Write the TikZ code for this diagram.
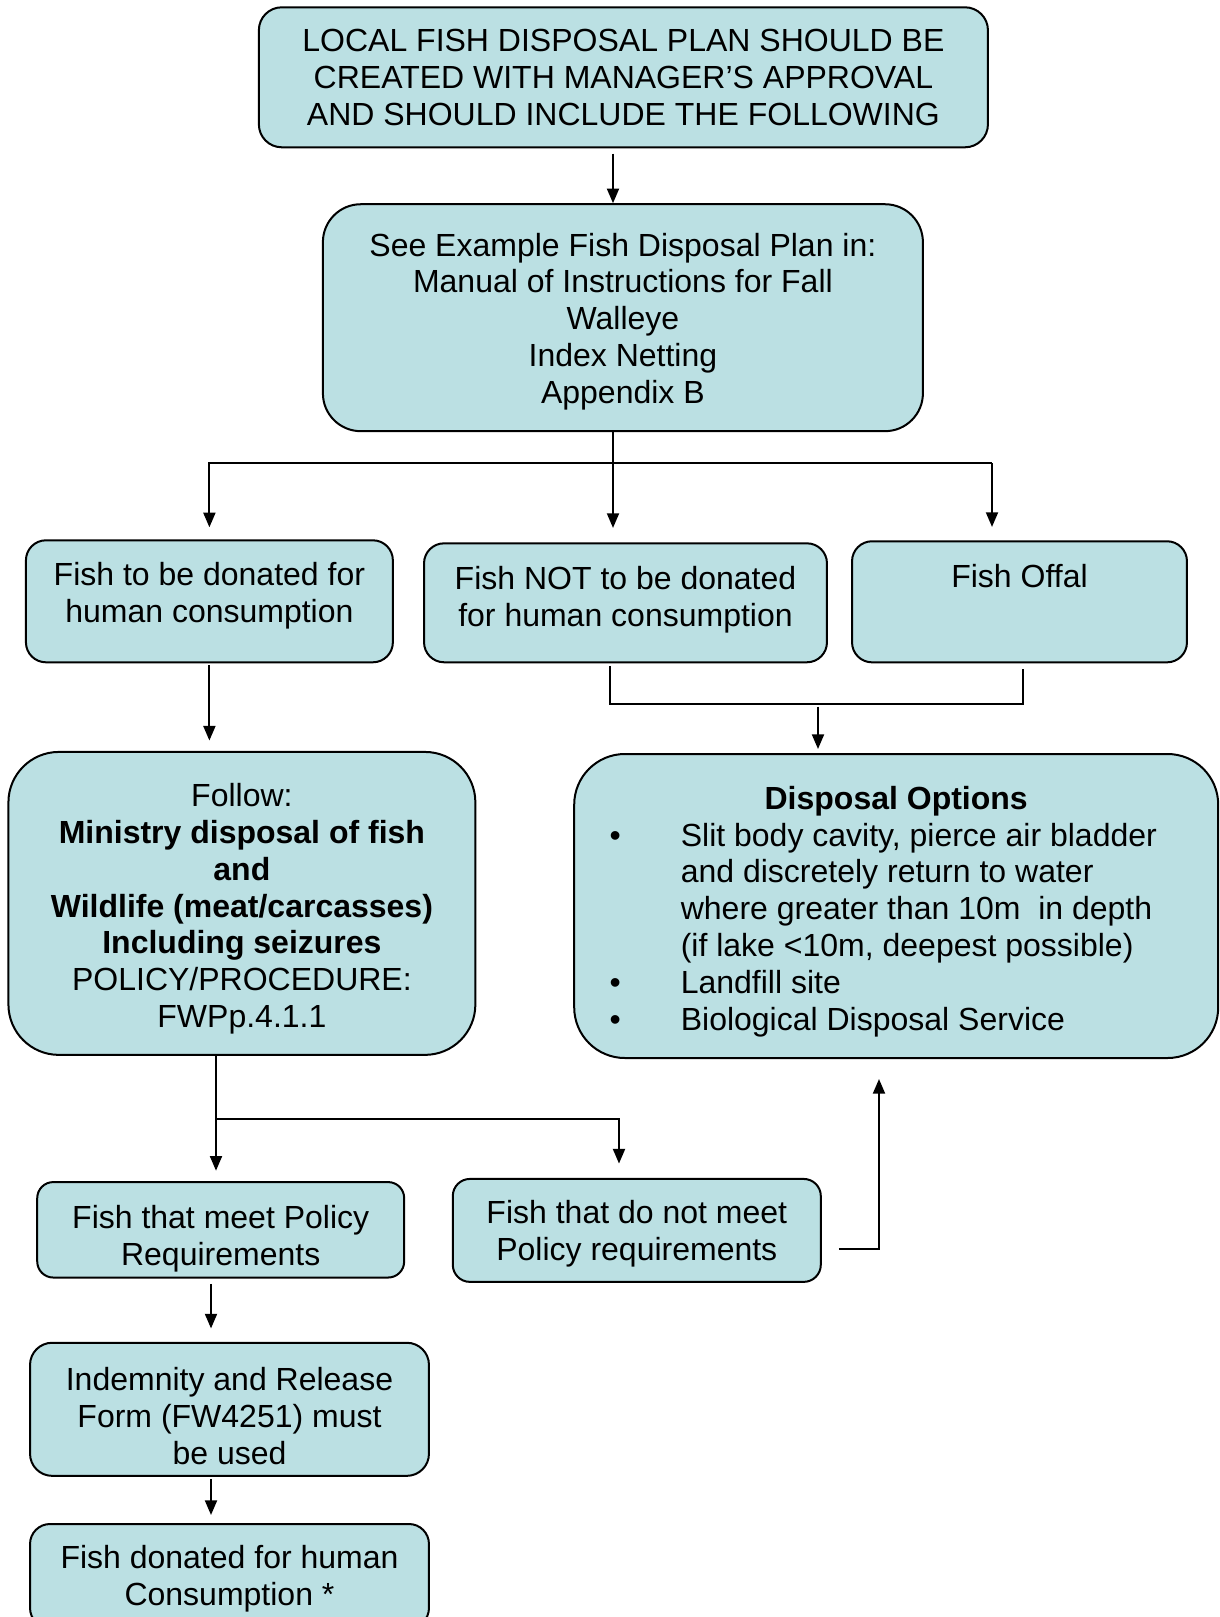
\documentclass[tikz,border=0pt]{standalone}
\usepackage{fontspec}
\setmainfont{Liberation Sans}
\usetikzlibrary{arrows.meta}
\definecolor{boxfill}{RGB}{187,224,227}

\begin{document}
\begin{tikzpicture}[x=0.375pt,y=-0.375pt,line width=0.75pt,
    >={Triangle[length=5.5pt,width=4.5pt]},
    box/.style={draw,fill=boxfill,align=center,inner sep=2pt,
      font=\fontsize{12}{13.8}\selectfont}]

    \path[use as bounding box] (0,0) rectangle (1219,1617);
    \clip (0,0) rectangle (1219,1617);

    % Boxes
    \node[box,minimum width=273.4pt,minimum height=52.5pt,rounded corners=8.6pt] (plan) at (623.4,77.3)
        {LOCAL FISH DISPOSAL PLAN SHOULD BE\\CREATED WITH MANAGER’S APPROVAL\\AND SHOULD INCLUDE THE FOLLOWING};
    \node[box,minimum width=225pt,minimum height=85.1pt,rounded corners=14.2pt] (see) at (622.9,317.7)
        {\rule{0pt}{11.5pt}See Example Fish Disposal Plan in:\\Manual of Instructions for Fall\\Walleye\\Index Netting\\Appendix B};
    \node[box,minimum width=137.6pt,minimum height=45.75pt,rounded corners=7.5pt] (donate) at (209.4,601.3)
        {Fish to be donated for\\human consumption\rule[-6.4pt]{0pt}{0pt}};
    \node[box,minimum width=151.1pt,minimum height=44.6pt,rounded corners=7.5pt] (notdonate) at (625.5,602.8)
        {Fish NOT to be donated\\for human consumption\rule[-4.8pt]{0pt}{0pt}};
    \node[box,minimum width=125.6pt,minimum height=45.4pt,rounded corners=7.5pt] (offal) at (1019.5,601.8)
        {Fish Offal\\\rule[-5.4pt]{0pt}{0pt}};
    \node[box,minimum width=175.1pt,minimum height=113.6pt,rounded corners=18.9pt] (follow) at (241.9,903.4)
        {\rule{0pt}{12.8pt}Follow:\\\textbf{Ministry disposal of fish}\\\textbf{and}\\\textbf{Wildlife (meat/carcasses)}\\\textbf{Including seizures}\\POLICY/PROCEDURE:\\FWPp.4.1.1};
    \node[box,minimum width=241.5pt,minimum height=114pt,rounded corners=19pt] (options) at (896.2,906)
        {\rule{0pt}{14.4pt}\textbf{Disposal Options}\\
         \begin{tabular}[t]{@{}p{26.7pt}@{}l@{}}
            \textbullet & Slit body cavity, pierce air bladder\\
                        & and discretely return to water\\
                        & where greater than 10m\ \ in depth\\
                        & (if lake <10m, deepest possible)\\
            \textbullet & Landfill site\\
            \textbullet & Biological Disposal Service
         \end{tabular}\hspace*{9.7pt}};
    \node[box,minimum width=137.6pt,minimum height=35.25pt,rounded corners=6pt] (meet) at (220.7,1229.8)
        {\rule{0pt}{15.5pt}Fish that meet Policy\\Requirements};
    \node[box,minimum width=138pt,minimum height=38.6pt,rounded corners=6.4pt] (notmeet) at (636.8,1230.4)
        {\rule{0pt}{11pt}Fish that do not meet\\Policy requirements};
    \node[box,minimum width=149.6pt,minimum height=49.9pt,rounded corners=8.3pt] (indemnity) at (229.5,1409.3)
        {\rule{0pt}{13.6pt}Indemnity and Release\\Form (FW4251) must\\be used};
    \node[box,minimum width=149.6pt,minimum height=39pt,rounded corners=7.5pt] (donated) at (229.5,1576)
        {\rule{0pt}{11pt}Fish donated for human\\Consumption *};

    % Joints of the connectors
    \coordinate (t1) at (613,463);
    \coordinate (tr) at (992,463);
    \coordinate (m1) at (610,704);
    \coordinate (m2) at (1023,704);
    \coordinate (m3) at (818,704);
    \coordinate (f1) at (216,1119);
    \coordinate (f2) at (619,1119);
    \coordinate (n1) at (879,1249);
    \coordinate (k1) at (211,1300);

    % Arrows
    \draw[->,shorten <=2pt] (plan.south -| t1) -- (see.north -| t1);
    \draw[->,shorten >=5.4pt] (see.south -| t1) -- (notdonate.north -| t1);
    \draw[->,shorten >=4.5pt] (tr) -| (donate.north);
    \draw[->,shorten >=5pt] (tr) -- (offal.north -| tr);
    \draw[->,shorten <=0.75pt,shorten >=3.9pt] (donate.south) -- (follow.north -| donate.south);
    \draw[shorten <=1pt,shorten >=2pt] (notdonate.south -| m1) -- (m1) -- (m2) -- (offal.south -| m2);
    \draw[->,shorten <=1pt,shorten >=1.5pt] (m3) -- (options.north -| m3);
    \draw[->,shorten >=3.9pt] (follow.south -| f1) -- (meet.north -| f1);
    \draw[->,shorten >=5.4pt] (f1) -| (notmeet.north -| f2);
    \draw[->,shorten <=6.4pt,shorten >=7.5pt] (notmeet.east |- n1) -| (options.south -| n1);
    \draw[->,shorten <=2pt,shorten >=5pt] (meet.south -| k1) -- (indemnity.north -| k1);
    \draw[->,shorten <=0.8pt,shorten >=3pt] (indemnity.south -| k1) -- (donated.north -| k1);

\end{tikzpicture}
\end{document}
